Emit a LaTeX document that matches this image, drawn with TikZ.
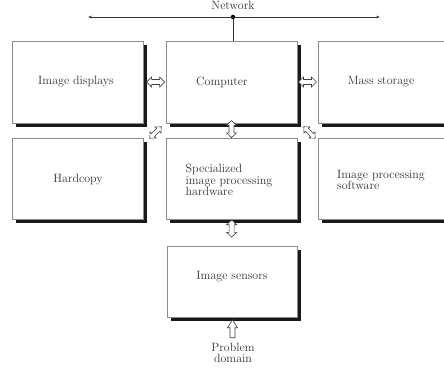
\documentclass[tikz,border=0pt]{standalone}
\usetikzlibrary{shadows,calc,arrows.meta}
\begin{document}
\begin{tikzpicture}[x=1pt,y=-1pt,
  box/.style={draw=black!45, line width=0.5pt, fill=white, minimum width=131pt, minimum height=82pt, inner sep=0pt,
    drop shadow={shadow xshift=4pt, shadow yshift=-4pt, fill=black!90, opacity=1}},
  lbl/.style={text=black!80, font=\fontsize{12}{11.5}\selectfont, align=left, inner sep=0pt},
  hol/.style={draw=black!75, fill=white, line width=0.6pt, line join=miter},
  pics/dbl/.style={code={\draw[hol] (-9,0)--(-4,-5)--(-4,-2.5)--(4,-2.5)--(4,-5)--(9,0)--(4,5)--(4,2.5)--(-4,2.5)--(-4,5)--cycle;}},
  pics/sgl/.style={code={\draw[hol] (9,0)--(1,-5)--(1,-2.5)--(-9,-2.5)--(-9,2.5)--(1,2.5)--(1,5)--cycle;}},
  netline/.style={line width=0.5pt, draw=black!80}
]
\useasboundingbox (0,0) rectangle (444,371);

% row 1
\node[box] (disp) at (77.5,82) {};
\node[lbl] (disptxt) at (76,82) {Image displays};
\node[box] (comp) at (231.5,82) {};
\node[lbl] (comptxt) at (222,82) {Computer};
\node[box] (mass) at (383.5,82) {};
\node[lbl] (masstxt) at (381,82) {Mass storage};

% row 2
\node[box, minimum height=81pt] (hard) at (77.5,178.5) {};
\node[lbl] (hardtxt) at (78,180) {Hardcopy};
\node[box, minimum height=81pt] (spec) at (231.5,178.5) {};
\node[lbl] (spectxt) at (229,180) {Specialized\\image processing\\hardware};
\node[box, minimum height=81pt] (soft) at (383.5,178.5) {};
\node[lbl] (softtxt) at (381,180) {Image processing\\software};

% row 3
\node[box, minimum width=130pt, minimum height=71pt] (sens) at (232,281.5) {};
\node[lbl] (senstxt) at (232,277) {Image sensors};

% problem domain
\node[lbl, align=center, font=\fontsize{12}{11.5}\selectfont] (prob) at (233,353) {Problem\\domain};

% network
\node[lbl] (net) at (233,5) {Network};
\coordinate (nl) at (88,17);
\coordinate (nr) at (380,17);
\node[circle, fill=black, inner sep=0pt, minimum size=4.5pt] (dot) at (233,17) {};
\draw[netline, {Stealth[length=4pt,width=2.5pt]}-{Stealth[length=4pt,width=2.5pt]}] (nl) -- (nr);
\draw[netline] (dot) -- (dot |- comp.north);

% hollow arrows
\pic at ($(disp.east)!0.55!(comp.west)$) {dbl};
\pic at ($(comp.east)!0.5!(mass.west)$) {dbl};
\pic[rotate=90, xscale=0.95] at ($(comp.south)!0.4!(spec.north)$) {dbl};
\pic[rotate=90, xscale=0.95] at ($(spec.south)!0.35!(sens.north)$) {dbl};
\pic[rotate=45, xscale=0.9, yscale=0.85] at ($(comp.south west)!0.5!(hard.north east)+(1,2)$) {dbl};
\pic[rotate=-45, xscale=0.9, yscale=0.85] at ($(comp.south east)!0.5!(soft.north west)+(2,2)$) {dbl};
\pic[rotate=90] at ($(sens.south)!0.45!(prob.north)$) {sgl};
\end{tikzpicture}
\end{document}
